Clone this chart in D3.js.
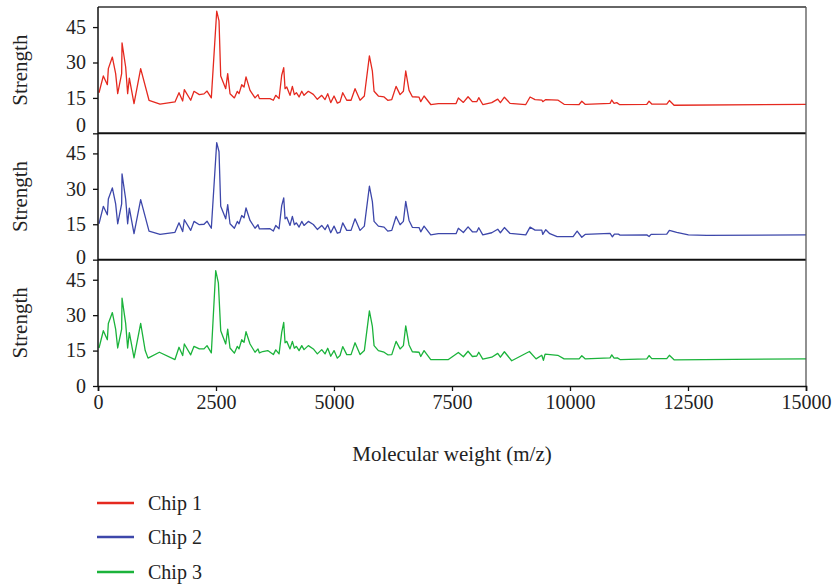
<!DOCTYPE html>
<html>
<head>
<meta charset="utf-8">
<title>Strength vs molecular weight</title>
<script src="https://cdn.jsdelivr.net/npm/d3@7"></script>
<style>
  body { margin: 0; background: #fff; }
  svg text { font-family: "Liberation Serif", "DejaVu Serif", serif; fill: #222; }
</style>
</head>
<body>
<div id="chart"></div>
<script>
// data (m/z, strength)
var chipNames = ["Chip 1", "Chip 2", "Chip 3"];
var chipColors = ["#e5291f", "#3d47aa", "#1bb33b"];
var yTicks = [0, 15, 30, 45];
var xTicks = [0, 2500, 5000, 7500, 10000, 12500, 15000];

var mz1 = [21,113,198,219,304,374,417,501,509,586,628,664,763,904,1081,1314,1631,1716,1794,1829,1964,2034,2147,2246,2310,2401,2515,2564,2600,2706,2748,2797,2889,2952,2988,3045,3094,3136,3221,3327,3390,3420,3645,3715,3766,3836,3892,3935,3963,3999,4068,4118,4160,4203,4260,4317,4365,4456,4562,4647,4740,4810,4867,4931,5001,5071,5128,5185,5270,5361,5446,5552,5643,5750,5813,5849,5940,6061,6139,6224,6315,6400,6470,6520,6590,6660,6802,6838,6908,7050,7211,7586,7635,7741,7840,7932,8024,8067,8152,8342,8469,8525,8610,8730,9063,9154,9260,9402,9423,9487,9741,9875,10193,10250,10320,10849,10885,10934,10990,11046,11627,11675,11732,12050,12105,12205,15000];
var chip1 = [17.2,24.3,20.6,27.4,32.3,25.3,16.8,25.3,38.3,28.1,16.8,23.4,12.6,27.4,14.0,12.4,13.3,17.2,13.7,18.5,14.0,17.8,16.4,16.7,17.9,15.0,51.7,47.6,24.3,18.9,25.3,16.8,15.0,17.8,16.8,20.6,19.6,23.9,18.2,15.0,16.4,14.7,14.7,14.0,16.1,14.7,24.6,27.8,18.9,19.6,16.1,19.9,16.4,17.2,15.4,17.8,16.1,17.8,16.5,14.4,16.1,14.3,16.8,13.0,15.8,12.8,13.3,17.2,14.0,14.0,18.9,14.0,15.8,32.8,26.3,17.8,15.8,15.4,14.0,14.3,19.9,16.4,17.8,26.4,18.2,15.5,15.3,13.4,15.8,12.2,12.6,12.6,15.0,13.1,15.5,13.4,13.4,15.1,12.2,13.0,14.5,13.0,15.3,12.7,12.2,15.4,14.3,14.1,13.4,14.3,14.1,12.3,12.2,13.6,12.3,12.7,14.1,12.7,13.0,12.2,12.3,13.6,12.4,12.4,13.9,11.9,12.3];

var mz2 = [21,113,198,219,304,374,417,501,509,586,628,664,763,904,1081,1314,1631,1716,1794,1829,1964,2034,2147,2246,2310,2401,2515,2564,2600,2706,2748,2797,2889,2952,2988,3045,3094,3136,3221,3327,3390,3420,3645,3715,3766,3836,3892,3935,3963,3999,4068,4118,4160,4203,4260,4317,4365,4456,4562,4647,4740,4810,4867,4931,5001,5071,5128,5185,5270,5361,5446,5552,5643,5750,5813,5849,5940,6061,6139,6224,6315,6400,6470,6520,6590,6660,6802,6838,6908,7050,7211,7586,7635,7741,7840,7932,8024,8067,8152,8342,8469,8525,8610,8730,9063,9154,9260,9402,9423,9487,9572,9727,10066,10151,10250,10320,10849,10898,10941,11025,11060,11627,11675,11718,12050,12105,12261,12509,12897,15000];
var chip2 = [15.2,22.6,19.0,25.7,30.4,23.6,15.2,23.6,36.3,25.7,15.2,21.8,11.0,25.4,12.1,10.7,11.6,15.6,11.9,16.9,12.4,16.2,14.8,15.0,16.3,13.3,49.6,45.7,22.6,17.3,23.3,15.2,13.3,16.2,15.2,18.7,17.7,21.9,16.6,13.3,14.8,13.0,13.1,12.1,14.5,13.1,22.9,26.2,17.3,18.0,14.5,18.3,14.8,15.6,13.8,16.2,14.5,16.2,14.9,12.8,14.5,12.7,14.8,11.4,14.2,11.2,11.6,15.6,12.4,12.4,17.3,12.4,14.2,31.1,24.6,16.2,14.2,13.8,12.1,12.4,18.3,14.8,16.2,24.7,16.6,13.7,13.6,11.8,14.2,10.5,11.0,11.0,13.3,11.5,13.9,11.8,11.8,13.5,10.5,11.4,12.9,11.4,13.6,11.1,10.5,13.8,12.5,12.5,10.7,12.7,11.0,9.8,9.8,12.1,9.5,10.7,11.1,9.7,10.8,10.8,10.4,10.5,9.8,10.7,10.8,12.4,11.6,10.5,10.3,10.5];

var mz3 = [21,113,198,219,304,374,417,501,509,586,628,664,763,904,1000,1060,1300,1631,1716,1794,1829,1964,2034,2147,2246,2310,2401,2494,2550,2600,2706,2748,2797,2889,2952,2988,3045,3094,3136,3221,3327,3390,3420,3490,3596,3715,3766,3836,3892,3935,3963,3999,4068,4118,4160,4203,4260,4317,4365,4456,4562,4647,4740,4810,4867,4931,5001,5071,5128,5185,5270,5361,5446,5552,5643,5750,5813,5849,5940,6061,6139,6224,6315,6400,6470,6520,6590,6660,6802,6838,6908,7050,7424,7635,7741,7840,7932,8024,8067,8152,8342,8469,8525,8610,8765,9140,9281,9402,9437,9472,9741,9875,10193,10250,10320,10849,10885,10934,11004,11060,11627,11675,11732,12050,12105,12205,15000];
var chip3 = [16.1,23.4,19.6,26.5,31.1,24.1,16.1,24.1,37.2,26.5,16.1,22.6,11.9,26.5,15.0,11.8,14.3,11.2,16.4,12.9,17.8,13.2,16.8,15.7,15.7,17.1,14.0,48.9,43.7,23.4,17.8,24.1,16.1,13.9,16.8,15.7,19.6,18.5,23.0,17.8,14.3,15.7,14.0,14.6,15.0,13.3,15.3,13.6,22.7,26.9,18.3,18.9,15.7,18.9,16.0,16.8,15.0,17.1,15.4,17.1,15.7,13.6,15.4,13.6,16.0,12.6,15.0,11.8,12.9,16.7,13.3,13.3,18.3,13.3,15.0,31.8,25.2,17.1,15.0,14.3,13.2,13.3,18.9,15.7,17.1,25.5,17.4,14.5,14.3,12.5,15.0,11.2,11.2,14.2,12.4,14.7,12.5,12.7,14.3,11.4,12.2,13.8,12.2,14.5,10.7,14.6,11.5,13.0,10.9,13.5,13.0,11.5,11.5,12.8,11.5,11.9,13.2,11.8,11.9,11.2,11.5,12.9,11.6,11.6,13.0,11.1,11.5];

var mzList = [mz1, mz2, mz3];
var chipList = [chip1, chip2, chip3];

var width = 834, height = 586;
var plotLeft = 98, plotRight = 806, plotTop = 7, plotBottom = 386;
var panelH = (plotBottom - plotTop) / 3;
var fontSize = 20;

var svg = d3.select("#chart").append("svg")
  .attr("width", width)
  .attr("height", height);

var x = d3.scaleLinear().domain([0, 15000]).range([plotLeft, plotRight]);

// zero labels sit a little higher in the upper panels
var zeroShift = [-8, -3, 0];

chipNames.forEach(function(name, i) {
  var pTop = plotTop + i * panelH;
  var pBottom = pTop + panelH;
  var y = d3.scaleLinear().domain([0, 53.5]).range([pBottom, pTop]);

  var line = d3.line()
    .x(function(d) { return x(d[0]); })
    .y(function(d) { return y(d[1]); });

  var pts = mzList[i].map(function(m, k) { return [m, chipList[i][k]]; });

  svg.append("path")
    .datum(pts)
    .attr("fill", "none")
    .attr("stroke", chipColors[i])
    .attr("stroke-width", 1.3)
    .attr("stroke-linejoin", "round")
    .attr("d", line);

  var yAxis = svg.append("g")
    .attr("transform", "translate(" + plotLeft + ",0)")
    .call(d3.axisLeft(y).tickValues(yTicks).tickSize(5).tickPadding(7));
  yAxis.select(".domain").remove();
  yAxis.selectAll(".tick line").attr("stroke", "#111").attr("stroke-width", 1.3);
  yAxis.selectAll(".tick text")
    .attr("font-size", fontSize)
    .attr("font-family", "Liberation Serif")
    .attr("fill", "#222")
    .attr("y", function(d) { return d === 0 ? zeroShift[i] : 0; });

  svg.append("text")
    .attr("transform", "translate(27," + (pTop + panelH / 2) + ") rotate(-90)")
    .attr("text-anchor", "middle")
    .attr("font-size", 21)
    .text("Strength");

  // separator / top border
  svg.append("line")
    .attr("x1", plotLeft).attr("x2", plotRight)
    .attr("y1", pTop).attr("y2", pTop)
    .attr("stroke", i === 0 ? "#333" : "#111")
    .attr("stroke-width", i === 0 ? 1.3 : 2);
});

// frame
svg.append("line")
  .attr("x1", plotLeft).attr("x2", plotLeft).attr("y1", plotTop).attr("y2", plotBottom)
  .attr("stroke", "#111").attr("stroke-width", 1.5);
svg.append("line")
  .attr("x1", plotRight).attr("x2", plotRight).attr("y1", plotTop).attr("y2", plotBottom)
  .attr("stroke", "#555").attr("stroke-width", 1.3);

var xAxis = svg.append("g")
  .attr("transform", "translate(0," + plotBottom + ")")
  .call(d3.axisBottom(x).tickValues(xTicks).tickFormat(d3.format("d")).tickSize(5).tickPadding(4));
xAxis.select(".domain").attr("stroke", "#111").attr("stroke-width", 1.6);
xAxis.selectAll(".tick line").attr("stroke", "#111").attr("stroke-width", 1.3);
xAxis.selectAll(".tick text")
  .attr("font-size", fontSize)
  .attr("font-family", "Liberation Serif")
  .attr("fill", "#222");

svg.append("text")
  .attr("x", (plotLeft + plotRight) / 2)
  .attr("y", 461)
  .attr("text-anchor", "middle")
  .attr("font-size", 21)
  .text("Molecular weight (m/z)");

// legend
var legendY = [503, 537, 572];
chipNames.forEach(function(name, i) {
  svg.append("line")
    .attr("x1", 97).attr("x2", 134)
    .attr("y1", legendY[i]).attr("y2", legendY[i])
    .attr("stroke", chipColors[i])
    .attr("stroke-width", 2.5);
  svg.append("text")
    .attr("x", 148)
    .attr("y", legendY[i] + 6.5)
    .attr("font-size", fontSize)
    .text(name);
});
</script>
</body>
</html>
